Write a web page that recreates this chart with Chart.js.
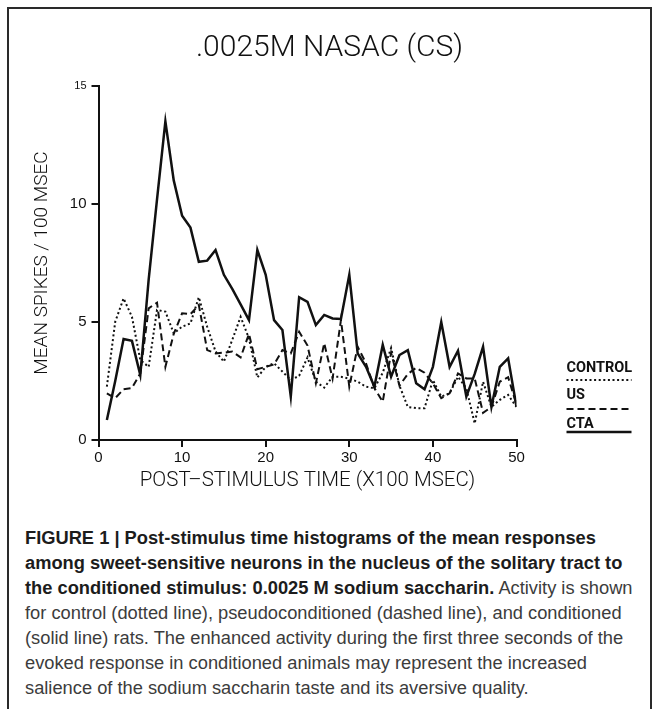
<!DOCTYPE html>
<html>
<head>
<meta charset="utf-8">
<script src="https://cdn.jsdelivr.net/npm/chart.js@4/dist/chart.umd.min.js"></script>
<style>
  body { margin: 0; background: #fff; }
  #fig {
    position: absolute; left: 7px; top: 7px;
    width: 641px; height: 720px;
    border: 2px solid #2a2a2a;
  }
  #graph { position: absolute; left: 0; top: 0; }
  #caption {
    position: absolute; left: 16px; top: 516px;
    font-family: "Liberation Sans", Arial, sans-serif;
    font-size: 18.3px; line-height: 25px; color: #3c3c3c;
    white-space: nowrap;
  }
  #caption b { color: #1c1c1c; }
</style>
</head>
<body>
<div id="fig">
  <canvas id="graph" width="641" height="500"></canvas>
  <div id="caption">
    <b>FIGURE 1 | Post-stimulus time histograms of the mean responses<br>
    among sweet-sensitive neurons in the nucleus of the solitary tract to<br>
    the conditioned stimulus: 0.0025 M sodium saccharin.</b> Activity is shown<br>
    for control (dotted line), pseudoconditioned (dashed line), and conditioned<br>
    (solid line) rats. The enhanced activity during the first three seconds of the<br>
    evoked response in conditioned animals may represent the increased<br>
    salience of the sodium saccharin taste and its aversive quality.
  </div>
</div>
<script>
// Dados do grafico
const times = [1,2,3,4,5,6,7,8,9,10,11,12,13,14,15,16,17,18,19,20,21,22,23,24,25,
               26,27,28,29,30,31,32,33,34,35,36,37,38,39,40,41,42,43,44,45,46,47,48,49,50];
const control = [2.26,5.01,6.0,5.22,3.39,3.1,5.51,5.44,4.52,4.8,
                 4.94,6.05,4.8,3.75,3.32,4.24,5.22,4.3,2.65,3.1,
                 3.25,2.9,2.54,2.72,3.5,2.47,2.22,2.68,2.68,2.6,
                 2.47,2.26,2.19,2.85,3.9,2.3,1.4,1.35,1.35,2.54,
                 1.84,1.98,2.68,2.19,0.7,2.47,1.4,1.7,1.91,1.4];
const us = [1.98,1.77,2.15,2.2,2.82,5.58,5.82,3.1,4.5,5.37,
            5.33,5.72,3.81,3.67,3.7,3.75,3.5,4.5,3.0,3.1,
            3.2,3.81,3.67,4.59,4.0,2.4,4.1,2.6,5.08,2.26,
            3.95,3.25,2.2,1.62,3.7,2.3,2.8,3.06,2.85,2.4,
            1.77,1.98,2.82,2.61,2.61,1.15,1.4,2.47,2.66,1.5];
const cta = [0.85,2.5,4.28,4.2,2.75,6.8,10.2,13.5,11.0,9.5,
             9.0,7.55,7.6,8.05,7.0,6.4,5.75,5.08,8.05,7.0,
             5.08,4.66,1.84,6.05,5.85,4.87,5.3,5.15,5.13,7.0,
             3.67,3.1,2.26,4.03,2.68,3.6,3.81,2.4,2.15,3.1,
             5.0,3.1,3.78,1.84,2.8,3.95,1.4,3.1,3.46,1.41];
const xTicks = [0,10,20,30,40,50];
const yTicks = [0,5,10,15];

const names = ["CONTROL", "US", "CTA"];
const dashes = [[2,2.6], [7,4], []];
const widths = [2, 2, 2.5];
const ink = "#111";

function pts(vals){
  return times.map((t, i) => ({x: t, y: vals[i]}));
}

// Legenda desenhada a direita
const sideLegend = {
  id: "sideLegend",
  afterDraw(chart){
    const c = chart.ctx;
    const a = chart.chartArea;
    const x0 = a.right + 50;
    const textY = [a.bottom - 72, a.bottom - 45, a.bottom - 16];
    const lineY = [a.bottom - 60, a.bottom - 31, a.bottom - 8];
    c.save();
    c.fillStyle = ink;
    c.strokeStyle = ink;
    c.font = 'bold 14.5px Roboto, "Liberation Sans", sans-serif';
    c.textBaseline = "middle";
    for (let i = 0; i < 3; i++)
    {
      c.fillText(names[i], x0, textY[i]);
      c.setLineDash(dashes[i]);
      c.lineWidth = widths[i];
      c.beginPath();
      c.moveTo(x0, lineY[i]);
      c.lineTo(x0 + 65, lineY[i]);
      c.stroke();
    }
    c.restore();
  }
};

const thin = 'Roboto, "Liberation Sans", sans-serif';

new Chart("graph", {
  type: "line",
  data: {
    datasets: [
      { label: names[0], data: pts(control), borderDash: dashes[0], borderWidth: widths[0] },
      { label: names[1], data: pts(us), borderDash: dashes[1], borderWidth: widths[1] },
      { label: names[2], data: pts(cta), borderDash: dashes[2], borderWidth: widths[2] },
    ].map(d => Object.assign(d, { borderColor: ink, pointRadius: 0, tension: 0, fill: false }))
  },
  options: {
    responsive: false,
    devicePixelRatio: 1,
    animation: false,
    layout: { padding: { left: 0, right: 0, top: 0, bottom: 9 } },
    plugins: {
      legend: { display: false },
      tooltip: { enabled: false },
      title: {
        display: true,
        text: ".0025M NASAC (CS)",
        color: ink,
        font: { family: thin, size: 30, weight: 300, lineHeight: 1.2 },
        padding: { top: 21, bottom: 20 }
      }
    },
    scales: {
      x: {
        type: "linear", min: 0, max: 50,
        afterFit: s => { s.height = 60; },
        afterBuildTicks: s => { s.ticks = xTicks.map(v => ({value: v})); },
        grid: { drawOnChartArea: false, drawTicks: true, tickLength: 7, color: ink, lineWidth: 2 },
        border: { display: true, color: ink, width: 2 },
        ticks: { color: ink, padding: 2, maxRotation: 0, font: { family: '"Liberation Sans", Arial, sans-serif', size: 15 } },
        title: {
          display: true, text: "POST\u2013STIMULUS TIME (X100 MSEC)", color: ink,
          font: { family: thin, size: 20.5, weight: 300, lineHeight: 1.2 },
          padding: { top: 0, bottom: 7 }
        }
      },
      y: {
        min: 0, max: 15,
        afterFit: s => { s.width = 89.5; },
        afterBuildTicks: s => { s.ticks = yTicks.map(v => ({value: v})); },
        grid: { drawOnChartArea: false, drawTicks: true, tickLength: 7, color: ink, lineWidth: 2 },
        border: { display: true, color: ink, width: 2 },
        ticks: {
          color: ink, padding: 5,
          font: ctx => ({ family: '"Liberation Sans", Arial, sans-serif', size: ctx.tick && ctx.tick.value === 15 ? 11 : 15 })
        },
        title: {
          display: true, text: "MEAN SPIKES / 100 MSEC", color: ink,
          font: { family: thin, size: 19, weight: 300, lineHeight: 1.2 },
          padding: { top: 22, bottom: 0 }
        }
      },
      // espaco vazio para a legenda
      side: {
        position: "right",
        afterFit: s => { s.width = 133.5; },
        grid: { display: false },
        border: { display: false },
        ticks: { display: false }
      }
    }
  },
  plugins: [sideLegend]
});
</script>
</body>
</html>
